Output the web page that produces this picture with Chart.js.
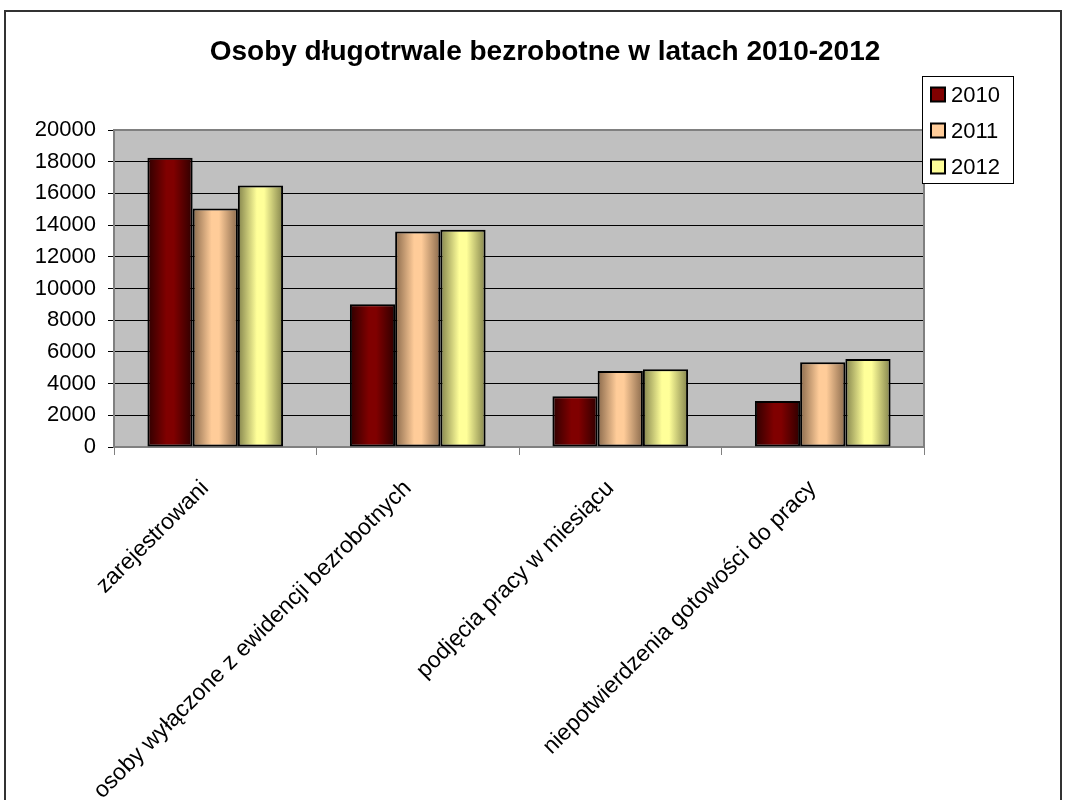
<!DOCTYPE html>
<html>
<head>
<meta charset="utf-8">
<title>Osoby długotrwale bezrobotne</title>
<script src="https://cdn.jsdelivr.net/npm/chart.js@4.4.0/dist/chart.umd.min.js"></script>
<style>
  html, body { margin: 0; padding: 0; background: #fff; }
  canvas { display: block; }
</style>
</head>
<body>
<canvas id="myChart" width="1066" height="800"></canvas>
<script>
// Dane wykresu
const categories = [
    'zarejestrowani',
    'osoby wyłączone z ewidencji bezrobotnych',
    'podjęcia pracy w miesiącu',
    'niepotwierdzenia gotowości do pracy'
];
const years = ['2010', '2011', '2012'];
const values2010 = [18250, 9000, 3200, 2900];
const values2011 = [15050, 13600, 4800, 5350];
const values2012 = [16500, 13700, 4900, 5550];
const yTicks = [0, 2000, 4000, 6000, 8000, 10000, 12000, 14000, 16000, 18000, 20000];

const chartTitle = 'Osoby długotrwale bezrobotne w latach 2010-2012';
const FONT = "'Liberation Sans', Arial, sans-serif";

// Kolory (środek słupka / krawędzie)
const baseColors = ['#800000', '#FFCC99', '#FFFF99'];
const darkColors = ['#2e0000', '#8a6a4c', '#83834c'];

// Tło, ramka i obramowanie obszaru wykresu
const framePlugin = {
    id: 'frame',
    beforeDraw(chart) {
        const c = chart.ctx;
        const a = chart.chartArea;
        c.save();
        c.fillStyle = '#fff';
        c.fillRect(0, 0, chart.width, chart.height);
        c.strokeStyle = '#333';
        c.lineWidth = 2;
        c.strokeRect(5, 11, chart.width - 10, chart.height + 10);
        c.fillStyle = '#C0C0C0';
        c.fillRect(a.left, a.top, a.right - a.left, a.bottom - a.top);
        c.restore();
    },
    beforeDatasetsDraw(chart) {
        const c = chart.ctx;
        const a = chart.chartArea;
        c.save();
        c.strokeStyle = '#808080';
        c.lineWidth = 2;
        c.strokeRect(a.left, a.top, a.right - a.left, a.bottom - a.top);
        c.restore();

        // cieniowanie słupków (efekt walca)
        chart.data.datasets.forEach((ds, i) => {
            chart.getDatasetMeta(i).data.forEach(bar => {
                const l = bar.x - bar.width / 2;
                const r = bar.x + bar.width / 2;
                const g = c.createLinearGradient(l, 0, r, 0);
                g.addColorStop(0, darkColors[i]);
                g.addColorStop(0.42, baseColors[i]);
                g.addColorStop(0.58, baseColors[i]);
                g.addColorStop(1, darkColors[i]);
                bar.options = Object.assign({}, bar.options, { backgroundColor: g });
            });
        });
    },
    afterDraw(chart) {
        const c = chart.ctx;
        c.save();
        // tytuł
        c.fillStyle = '#000';
        c.font = 'bold 28px ' + FONT;
        c.textAlign = 'center';
        c.textBaseline = 'middle';
        c.fillText(chartTitle, 545, 52);

        // legenda
        c.fillStyle = '#fff';
        c.fillRect(922, 76, 91, 107);
        c.strokeStyle = '#000';
        c.lineWidth = 1;
        c.strokeRect(922.5, 76.5, 91, 107);
        c.font = '22px ' + FONT;
        c.textAlign = 'left';
        chart.data.datasets.forEach((ds, i) => {
            const cy = 94.5 + 36 * i;
            c.fillStyle = baseColors[i];
            c.fillRect(931, cy - 7, 14, 14);
            c.lineWidth = 2;
            c.strokeStyle = '#000';
            c.strokeRect(931, cy - 7, 14, 14);
            c.fillStyle = '#000';
            c.fillText(ds.label, 951, cy + 1);
        });
        c.restore();
    }
};

const data = {
    labels: categories,
    datasets: [
        { label: years[0], data: values2010, backgroundColor: baseColors[0] },
        { label: years[1], data: values2011, backgroundColor: baseColors[1] },
        { label: years[2], data: values2012, backgroundColor: baseColors[2] }
    ]
};

const config = {
    type: 'bar',
    data: data,
    options: {
        responsive: false,
        animation: false,
        devicePixelRatio: 1,
        layout: { padding: { top: 130, right: 142, bottom: 0, left: 0 } },
        datasets: {
            bar: {
                categoryPercentage: 0.67,
                barPercentage: 1.0,
                borderWidth: 2,
                borderColor: '#000',
                borderSkipped: false
            }
        },
        plugins: {
            legend: { display: false },
            title: { display: false },
            tooltip: { enabled: false }
        },
        scales: {
            x: {
                grid: { drawOnChartArea: false, offset: true, color: '#808080', tickLength: 8 },
                border: { display: false },
                ticks: {
                    autoSkip: false,
                    minRotation: 45,
                    maxRotation: 45,
                    padding: 20,
                    labelOffset: -10,
                    color: '#000',
                    font: { family: FONT, size: 23 }
                },
                afterFit(scale) {
                    scale.height = 353;
                    scale.paddingLeft = 0;
                    scale.paddingRight = 0;
                }
            },
            y: {
                min: 0,
                max: 20000,
                afterBuildTicks(scale) {
                    scale.ticks = yTicks.map(v => ({ value: v }));
                },
                grid: { color: '#000', lineWidth: 1, tickLength: 6 },
                border: { display: false },
                ticks: {
                    padding: 12,
                    color: '#000',
                    font: { family: FONT, size: 22 },
                    callback: v => String(v)
                },
                afterFit(scale) {
                    scale.width = 114;
                    scale.paddingTop = 0;
                    scale.paddingBottom = 0;
                }
            }
        }
    },
    plugins: [framePlugin]
};

const myChart = new Chart(document.getElementById('myChart').getContext('2d'), config);
</script>
</body>
</html>
